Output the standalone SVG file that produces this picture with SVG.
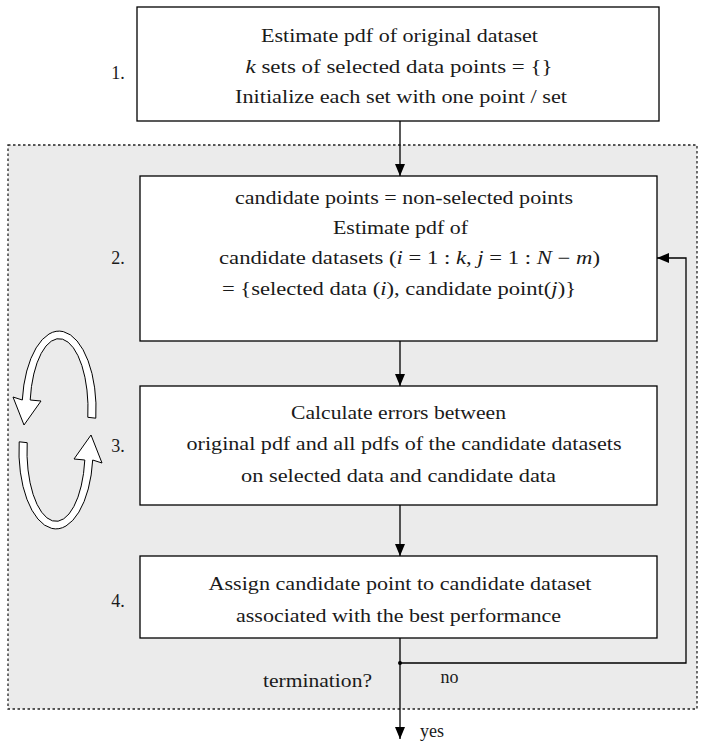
<svg xmlns="http://www.w3.org/2000/svg" width="704" height="741" viewBox="0 0 704 741">
  <style>
    .box { fill: #ffffff; stroke: #000000; stroke-width: 1.3; }
    .txt { font-family: "Liberation Serif", "DejaVu Serif", serif; font-size: 18px; fill: #1a1a1a; text-anchor: middle; }
    .m { font-style: italic; }
    .wire { fill: none; stroke: #000000; stroke-width: 1.3; }
    .loop { fill: #ffffff; stroke: #000000; stroke-width: 1; }
  </style>
  <defs>
    <marker id="head" viewBox="0 0 12 10" refX="12" refY="5" markerWidth="12" markerHeight="10" markerUnits="userSpaceOnUse" orient="auto">
      <path d="M0,0 L12,5 L0,10 Z" fill="#000000"/>
    </marker>
  </defs>

  <!-- iteration region -->
  <rect id="loop-region" x="8" y="145" width="689" height="564" fill="#ebebeb" stroke="#222222" stroke-width="1.3" stroke-dasharray="2.5,2.5"/>

  <!-- circular iteration symbol -->
  <g id="cycle-symbol">
    <path class="loop" d="M95.8,418.2 A37,78 0 0 0 22.3,400 L13,397 L24,425 L41,401 L30.2,400 A29,70 0 0 1 87.8,417.3 Z"/>
    <path class="loop" transform="rotate(180 57.5 430)" d="M95.8,418.2 A37,78 0 0 0 22.3,400 L13,397 L24,425 L41,401 L30.2,400 A29,70 0 0 1 87.8,417.3 Z"/>
  </g>

  <!-- step 1 -->
  <g id="step1">
    <rect class="box" x="137" y="7" width="522" height="114"/>
    <text class="txt" x="118" y="79">1.</text>
    <text class="txt" x="399.5" y="42" textLength="277" lengthAdjust="spacingAndGlyphs">Estimate pdf of original dataset</text>
    <text class="txt" x="399" y="73" textLength="307" lengthAdjust="spacingAndGlyphs"><tspan class="m">k</tspan> sets of selected data points = {}</text>
    <text class="txt" x="401" y="103" textLength="332" lengthAdjust="spacingAndGlyphs">Initialize each set with one point / set</text>
  </g>

  <!-- step 2 -->
  <g id="step2">
    <rect class="box" x="140" y="176" width="517" height="165"/>
    <text class="txt" x="118" y="264">2.</text>
    <text class="txt" x="404" y="204" textLength="338" lengthAdjust="spacingAndGlyphs">candidate points = non-selected points</text>
    <text class="txt" x="400.5" y="234" textLength="135" lengthAdjust="spacingAndGlyphs">Estimate pdf of</text>
    <text class="txt" x="409.5" y="264" textLength="381" lengthAdjust="spacingAndGlyphs">candidate datasets (<tspan class="m">i</tspan> = 1 : <tspan class="m">k</tspan>, <tspan class="m">j</tspan> = 1 : <tspan class="m">N</tspan> − <tspan class="m">m</tspan>)</text>
    <text class="txt" x="399" y="295" textLength="354" lengthAdjust="spacingAndGlyphs">= {selected data (<tspan class="m">i</tspan>), candidate point(<tspan class="m">j</tspan>)}</text>
  </g>

  <!-- step 3 -->
  <g id="step3">
    <rect class="box" x="140" y="386" width="517" height="119"/>
    <text class="txt" x="118" y="452">3.</text>
    <text class="txt" x="398.5" y="419" textLength="215" lengthAdjust="spacingAndGlyphs">Calculate errors between</text>
    <text class="txt" x="404" y="450" textLength="435" lengthAdjust="spacingAndGlyphs">original pdf and all pdfs of the candidate datasets</text>
    <text class="txt" x="398.5" y="482" textLength="315" lengthAdjust="spacingAndGlyphs">on selected data and candidate data</text>
  </g>

  <!-- step 4 -->
  <g id="step4">
    <rect class="box" x="140" y="556" width="517" height="82"/>
    <text class="txt" x="118" y="607">4.</text>
    <text class="txt" x="400" y="590" textLength="383" lengthAdjust="spacingAndGlyphs">Assign candidate point to candidate dataset</text>
    <text class="txt" x="398.5" y="622" textLength="325" lengthAdjust="spacingAndGlyphs">associated with the best performance</text>
  </g>

  <!-- decision labels -->
  <g id="decision">
    <text class="txt" x="317.5" y="687" textLength="109" lengthAdjust="spacingAndGlyphs">termination?</text>
    <text class="txt" x="449.5" y="683">no</text>
    <text class="txt" x="432" y="737">yes</text>
  </g>

  <!-- connectors -->
  <g id="connectors">
    <line class="wire" x1="400" y1="121" x2="400" y2="176" marker-end="url(#head)"/>
    <line class="wire" x1="400" y1="341" x2="400" y2="386" marker-end="url(#head)"/>
    <line class="wire" x1="400" y1="505" x2="400" y2="556" marker-end="url(#head)"/>
    <line class="wire" x1="400" y1="638" x2="400" y2="739" marker-end="url(#head)"/>
    <polyline class="wire" points="400,663 686,663 686,258 657,258" marker-end="url(#head)"/>
    <circle cx="400" cy="663" r="2" fill="#000000"/>
  </g>
</svg>
